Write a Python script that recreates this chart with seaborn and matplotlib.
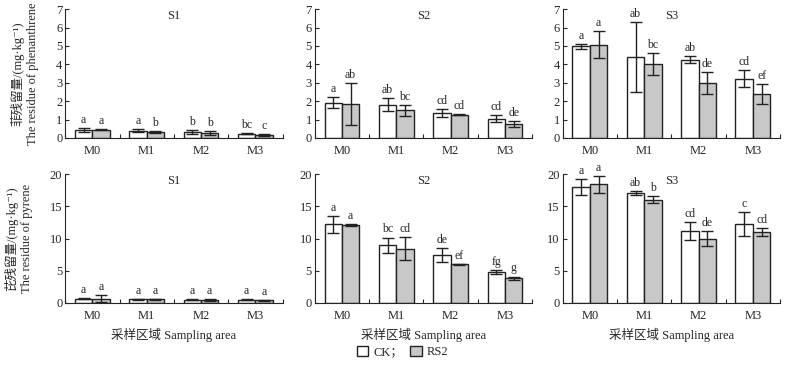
import matplotlib
matplotlib.use("Agg")
import matplotlib.pyplot as plt
from matplotlib.patches import Patch
import seaborn as sns
import pandas as pd

sns.set_style("ticks")
plt.rcParams['font.family'] = ['Liberation Serif', 'Noto Sans CJK SC', 'DejaVu Serif']
plt.rcParams['axes.unicode_minus'] = False

areas = ["M0", "M1", "M2", "M3"]
treatments = ["CK", "RS2"]
sites = ["S1", "S2", "S3"]

# phenanthrene residue (mg/kg)
phe_ck = {"S1": [0.45, 0.40, 0.32, 0.22], "S2": [1.92, 1.80, 1.35, 1.05], "S3": [4.97, 4.40, 4.25, 3.23]}
phe_rs2 = {"S1": [0.45, 0.33, 0.27, 0.16], "S2": [1.85, 1.50, 1.27, 0.75], "S3": [5.07, 4.02, 2.98, 2.38]}
phe_ck_err = {"S1": [0.10, 0.08, 0.10, 0.03], "S2": [0.30, 0.35, 0.22, 0.20], "S3": [0.15, 1.90, 0.20, 0.48]}
phe_rs2_err = {"S1": [0.03, 0.05, 0.12, 0.05], "S2": [1.15, 0.28, 0.04, 0.17], "S3": [0.75, 0.60, 0.58, 0.55]}
phe_ck_sig = {"S1": ["a", "a", "b", "bc"], "S2": ["a", "ab", "cd", "cd"], "S3": ["a", "ab", "ab", "cd"]}
phe_rs2_sig = {"S1": ["a", "b", "b", "c"], "S2": ["ab", "bc", "cd", "de"], "S3": ["a", "bc", "de", "ef"]}

# pyrene residue (mg/kg)
pyr_ck = {"S1": [0.65, 0.55, 0.50, 0.50], "S2": [12.2, 8.95, 7.4, 4.85], "S3": [18.0, 17.0, 11.1, 12.3]}
pyr_rs2 = {"S1": [0.65, 0.55, 0.50, 0.40], "S2": [12.15, 8.45, 6.0, 3.85], "S3": [18.4, 16.0, 10.0, 11.0]}
pyr_ck_err = {"S1": [0.10, 0.10, 0.10, 0.10], "S2": [1.35, 1.20, 1.10, 0.30], "S3": [1.30, 0.30, 1.40, 1.85]}
pyr_rs2_err = {"S1": [0.55, 0.10, 0.15, 0.10], "S2": [0.15, 1.75, 0.10, 0.25], "S3": [1.30, 0.55, 1.10, 0.60]}
pyr_ck_sig = {"S1": ["a", "a", "a", "a"], "S2": ["a", "bc", "de", "fg"], "S3": ["a", "ab", "cd", "c"]}
pyr_rs2_sig = {"S1": ["a", "a", "a", "a"], "S2": ["a", "cd", "ef", "g"], "S3": ["a", "b", "de", "cd"]}

rows = [
    dict(ck=phe_ck, rs2=phe_rs2, ck_err=phe_ck_err, rs2_err=phe_rs2_err, ck_sig=phe_ck_sig, rs2_sig=phe_rs2_sig,
         ymax=7, yticks=range(0, 8), ylabel="菲残留量/(mg·kg⁻¹)\nThe residue of phenanthrene"),
    dict(ck=pyr_ck, rs2=pyr_rs2, ck_err=pyr_ck_err, rs2_err=pyr_rs2_err, ck_sig=pyr_ck_sig, rs2_sig=pyr_rs2_sig,
         ymax=20, yticks=range(0, 21, 5), ylabel="芘残留量/(mg·kg⁻¹)\nThe residue of pyrene"),
]

colors = {"CK": "white", "RS2": "#c8c8c8"}
edge = "#222222"
fs = 9

fig = plt.figure(figsize=(8.05, 3.65), dpi=100)
lefts = [0.081, 0.391, 0.699]
bottoms = [0.622, 0.170]
w, h = 0.27, 0.353

for r, row in enumerate(rows):
    for c, site in enumerate(sites):
        ax = fig.add_axes([lefts[c], bottoms[r], w, h])
        df = pd.DataFrame({
            "area": areas * 2,
            "treat": ["CK"] * 4 + ["RS2"] * 4,
            "value": row["ck"][site] + row["rs2"][site],
        })
        sns.barplot(data=df, x="area", y="value", hue="treat", order=areas, hue_order=treatments,
                    palette=colors, edgecolor=edge, linewidth=1.0, width=0.64, errorbar=None,
                    legend=False, ax=ax)
        errs = [row["ck_err"][site], row["rs2_err"][site]]
        sigs = [row["ck_sig"][site], row["rs2_sig"][site]]
        vals = [row["ck"][site], row["rs2"][site]]
        bar_conts = list(ax.containers)
        for k, cont in enumerate(bar_conts):
            xs = [p.get_x() + p.get_width() / 2 for p in cont.patches]
            ax.errorbar(xs, vals[k], yerr=errs[k], fmt="none", ecolor="#222222",
                        elinewidth=1.0, capsize=4, capthick=1.0, clip_on=False)
            for x, v, e, s in zip(xs, vals[k], errs[k], sigs[k]):
                ax.annotate(s, (x, v + e), xytext=(0, 1.5), textcoords="offset points",
                            ha="center", va="bottom", fontsize=fs - 0.5, annotation_clip=False)
        ax.set_xlim(-0.5, 3.5)
        ax.set_ylim(0, row["ymax"])
        ax.set_yticks(list(row["yticks"]))
        ax.set_xticks([-0.5, 0.5, 1.5, 2.5, 3.5], minor=True)
        ax.tick_params(axis="x", which="major", length=0, labelsize=fs, pad=5)
        ax.tick_params(axis="x", which="minor", direction="in", length=3, width=0.8)
        ax.tick_params(axis="y", direction="in", length=3, width=0.8, labelsize=fs, pad=2)
        sns.despine(ax=ax)
        for sp in ["left", "bottom"]:
            ax.spines[sp].set_linewidth(0.8)
        ax.text(0.5, 0.99, site, transform=ax.transAxes, ha="center", va="top", fontsize=fs)
        if c == 0:
            ax.set_ylabel(row["ylabel"], fontsize=fs, labelpad=12, linespacing=1.3)
        else:
            ax.set_ylabel("")
        if r == 1:
            ax.set_xlabel("采样区域 Sampling area", fontsize=fs, labelpad=4)
        else:
            ax.set_xlabel("")

handles = [Patch(facecolor=colors[t], edgecolor=edge, linewidth=1.0) for t in treatments]
fig.legend(handles, ["CK；", "RS2"], loc="center", bbox_to_anchor=(0.5, 0.035), ncol=2,
           frameon=False, fontsize=fs, handlelength=0.9, handleheight=0.9, handletextpad=0.4,
           columnspacing=0.6)

fig.savefig("out.png", dpi=100)
